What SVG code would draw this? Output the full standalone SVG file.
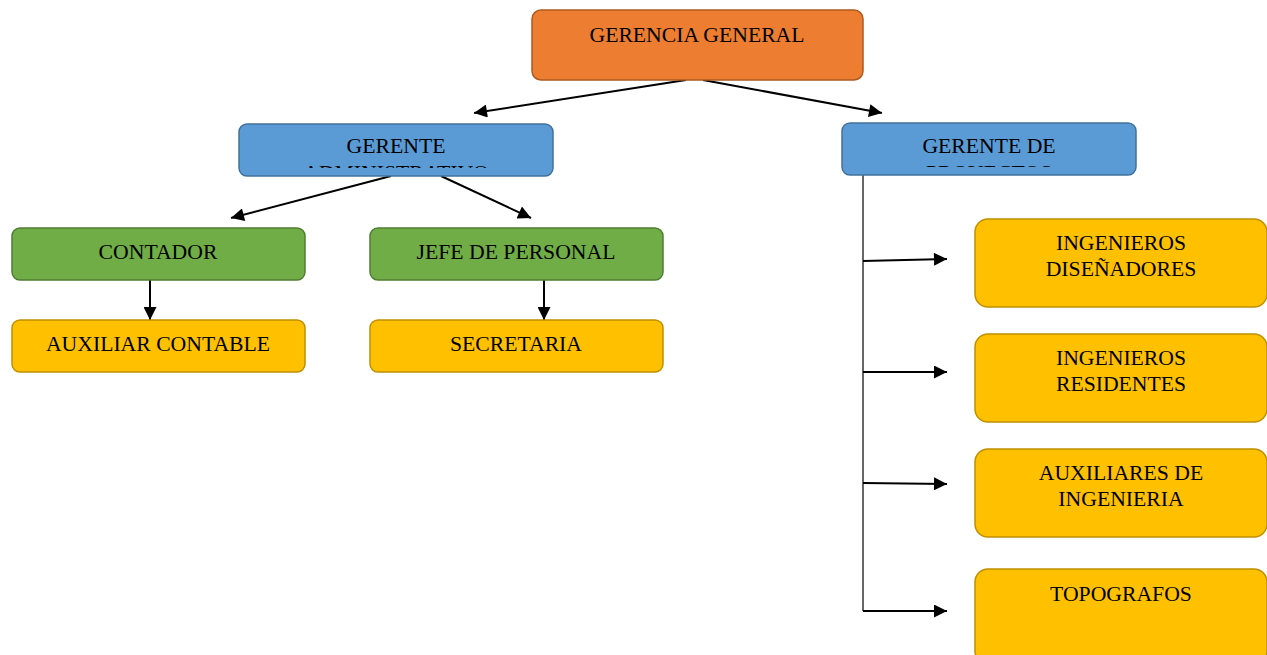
<svg xmlns="http://www.w3.org/2000/svg" width="1267" height="655" viewBox="0 0 1267 655">
<style>
text{font-family:"Liberation Serif","Times New Roman",serif;font-size:21.7px;fill:#000;text-anchor:middle}
.orange{fill:#ED7D31;stroke:#AE5A21;stroke-width:1.5}
.blue{fill:#5B9BD5;stroke:#41719C;stroke-width:1.5}
.green{fill:#70AD47;stroke:#507E32;stroke-width:1.5}
.yellow{fill:#FFC000;stroke:#BF9000;stroke-width:1.5}
.conn{stroke:#000;stroke-width:2;fill:none}
.thin{stroke:#000;stroke-width:1.2;fill:none}
</style>
<defs>
<marker id="ah" viewBox="0 0 10 10" refX="10" refY="5" markerWidth="7" markerHeight="6.5" orient="auto" markerUnits="strokeWidth">
<path d="M0,0 L10,5 L0,10 z" fill="#000"/>
</marker>
<clipPath id="clipGA"><rect x="239" y="124" width="314" height="44"/></clipPath>
<clipPath id="clipGP"><rect x="842" y="123" width="294" height="44"/></clipPath>
</defs>
<g id="connectors">
<line class="conn" x1="686" y1="80" x2="474" y2="113" marker-end="url(#ah)"/>
<line class="conn" x1="703" y1="80" x2="882" y2="113" marker-end="url(#ah)"/>
<line class="conn" x1="391" y1="176" x2="231" y2="218" marker-end="url(#ah)"/>
<line class="conn" x1="441" y1="176" x2="531" y2="218" marker-end="url(#ah)"/>
<line class="conn" x1="150" y1="280" x2="150" y2="320" marker-end="url(#ah)"/>
<line class="conn" x1="544" y1="280" x2="544" y2="320" marker-end="url(#ah)"/>
<line class="thin" x1="863" y1="175" x2="863" y2="611"/>
<line class="conn" x1="863" y1="261" x2="947" y2="259" marker-end="url(#ah)"/>
<line class="conn" x1="863" y1="372" x2="947" y2="372" marker-end="url(#ah)"/>
<line class="conn" x1="863" y1="483" x2="947" y2="484" marker-end="url(#ah)"/>
<line class="conn" x1="863" y1="611" x2="947" y2="611" marker-end="url(#ah)"/>
</g>
<g id="gerencia-general">
<rect class="orange" x="532" y="10" width="331" height="70" rx="9"/>
<text x="697" y="42">GERENCIA GENERAL</text>
</g>
<g id="gerente-administrativo">
<rect class="blue" x="239" y="124" width="314" height="52" rx="8"/>
<text x="396" y="153">GERENTE</text>
<text x="396" y="180" clip-path="url(#clipGA)">ADMINISTRATIVO</text>
</g>
<g id="gerente-proyectos">
<rect class="blue" x="842" y="123" width="294" height="52" rx="8"/>
<text x="989" y="153">GERENTE DE</text>
<text x="989" y="180" clip-path="url(#clipGP)">PROYECTOS</text>
</g>
<g id="contador">
<rect class="green" x="12" y="228" width="293" height="52" rx="8"/>
<text x="158" y="259">CONTADOR</text>
</g>
<g id="jefe-personal">
<rect class="green" x="370" y="228" width="293" height="52" rx="8"/>
<text x="516" y="259">JEFE DE PERSONAL</text>
</g>
<g id="auxiliar-contable">
<rect class="yellow" x="12" y="320" width="293" height="52" rx="8"/>
<text x="158" y="351">AUXILIAR CONTABLE</text>
</g>
<g id="secretaria">
<rect class="yellow" x="370" y="320" width="293" height="52" rx="8"/>
<text x="516" y="351">SECRETARIA</text>
</g>
<g id="ingenieros-disenadores">
<rect class="yellow" x="975" y="219" width="292" height="88" rx="13"/>
<text x="1121" y="250">INGENIEROS</text>
<text x="1121" y="276">DISEÑADORES</text>
</g>
<g id="ingenieros-residentes">
<rect class="yellow" x="975" y="334" width="292" height="88" rx="13"/>
<text x="1121" y="365">INGENIEROS</text>
<text x="1121" y="391">RESIDENTES</text>
</g>
<g id="auxiliares-ingenieria">
<rect class="yellow" x="975" y="449" width="292" height="88" rx="13"/>
<text x="1121" y="480">AUXILIARES DE</text>
<text x="1121" y="506">INGENIERIA</text>
</g>
<g id="topografos">
<rect class="yellow" x="975" y="569" width="292" height="95" rx="13"/>
<text x="1121" y="601">TOPOGRAFOS</text>
</g>
</svg>
